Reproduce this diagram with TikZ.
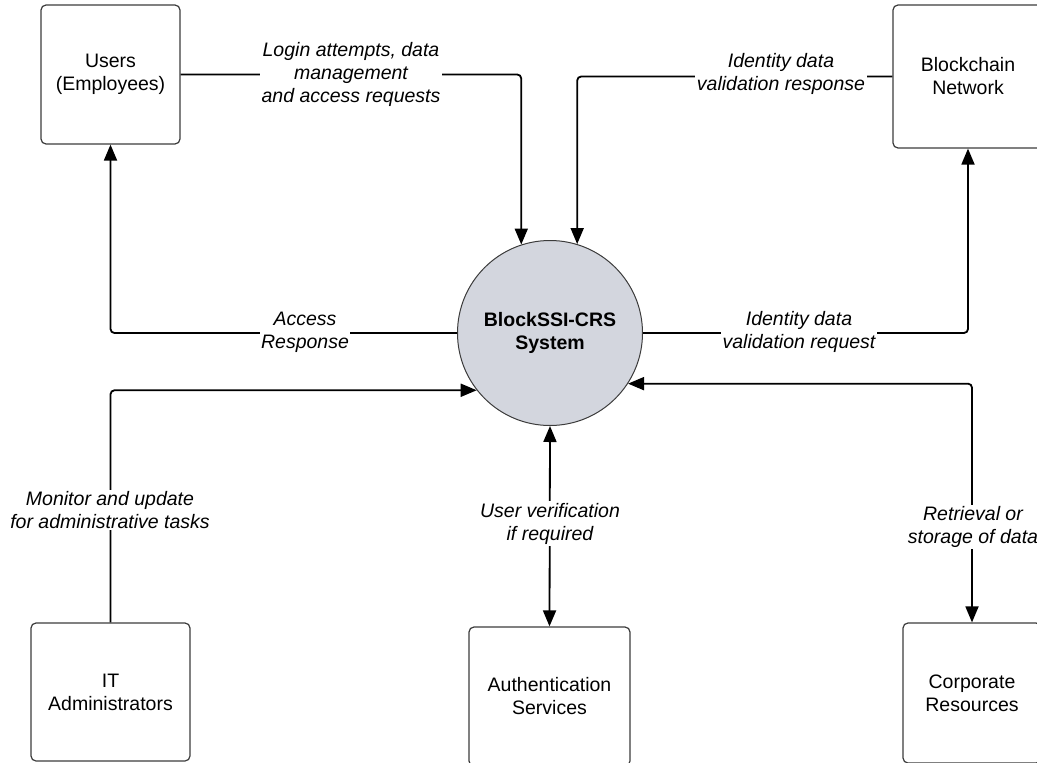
\documentclass[tikz,border=0pt]{standalone}
\usepackage{fontspec}
\setmainfont{Liberation Sans}
\usetikzlibrary{arrows.meta}
\definecolor{sysfill}{RGB}{211,214,222}
\definecolor{boxline}{RGB}{60,60,60}
\begin{document}
\begin{tikzpicture}[x=1pt,y=-1pt,
  every node/.style={font=\fontsize{19.5}{23}\selectfont},
  box/.style={draw=boxline, line width=1.2pt, rounded corners=5pt, fill=white,
    align=center, inner sep=0pt},
  sysnode/.style={circle, draw=boxline, line width=1pt, fill=sysfill, minimum size=185pt,
    inner sep=0pt, align=center, font=\fontsize{19.5}{23}\selectfont\bfseries},
  flow/.style={line width=1.8pt, rounded corners=4pt, -{Triangle[length=16pt,width=13pt]}},
  bothflow/.style={line width=1.8pt, rounded corners=4pt,
    {Triangle[length=16pt,width=13pt]}-{Triangle[length=16pt,width=13pt]}},
  lbl/.style={fill=white, align=center, inner sep=1.5pt,
    font=\fontsize{19.5}{23}\selectfont\itshape}]
\useasboundingbox (0,0) rectangle (1037,763);
\clip (0,0) rectangle (1037,763);
\fill[white] (0,0) rectangle (1037,763);

% entities
\node[box, minimum width=139pt, minimum height=139pt] (users) at (110.5,74.5) {Users\\(Employees)};
\node[box, minimum width=150pt, minimum height=143pt] (chain) at (968,76.5) {Blockchain\\Network};
\node[box, minimum width=159pt, minimum height=138pt] (itadm) at (110.5,692) {IT\\Administrators};
\node[box, minimum width=161pt, minimum height=139pt] (auth) at (549.5,696.5) {Authentication\\Services};
\node[box, minimum width=138pt, minimum height=140pt] (corp) at (972,693) {Corporate\\Resources};
\node[sysnode] (sys) at (550,333) {BlockSSI-CRS\\System};

% flows
\draw[flow] (users.east) -| (sys.108.9);
\draw[flow] (chain.west) -| (sys.73.0);
\draw[flow] (sys.west) -| (users.south);
\draw[flow] (sys.east) -| (chain.south);
\draw[flow] (itadm.north) |- (sys.218.8);
\draw[bothflow] (sys.327.3) -| (corp.north);
\draw[bothflow] (sys.south) -- (auth.north);

% labels
\node[lbl] (l1) at (351,74.5) {Login attempts, data\\management\\and access requests};
\node[lbl] (l2) at (781,73.5) {Identity data\\validation response};
\node[lbl] (l3) at (305,332) {Access\\Response};
\node[lbl] (l4) at (799,331.5) {Identity data\\validation request};
\node[lbl] (l5) at (110,510) {Monitor and update\\for administrative tasks};
\node[lbl] (l6) at (550,523.5) {User verification\\if required};
\node[lbl] (l7) at (973,527) {Retrieval or\\storage of data};
\end{tikzpicture}
\end{document}
